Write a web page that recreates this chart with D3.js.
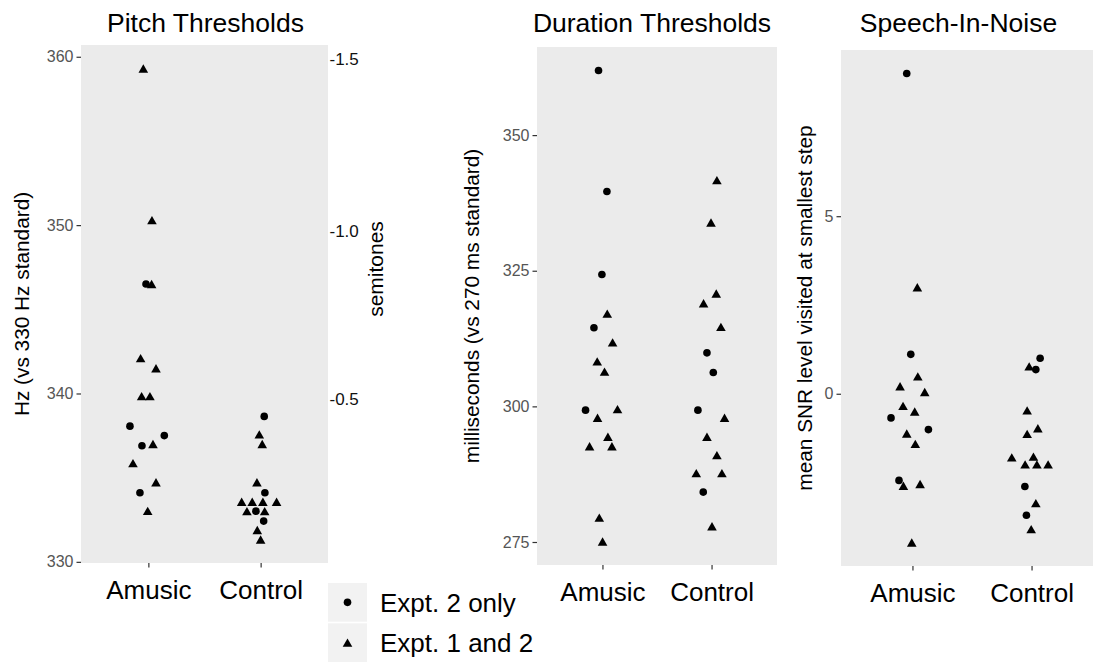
<!DOCTYPE html>
<html>
<head>
<meta charset="utf-8">
<script src="https://cdn.jsdelivr.net/npm/d3@7"></script>
<style>
  html, body { margin: 0; padding: 0; background: #fff; }
  svg { display: block; font-family: "Liberation Sans", Arial, Helvetica, sans-serif; }
</style>
</head>
<body>
<svg id="chart" width="1093" height="662"></svg>
<script>
// ---------- DATA ----------
const groups = ["Amusic", "Control"];
const legendLabels = ["Expt. 2 only", "Expt. 1 and 2"]; // code 0 = circle, 1 = triangle

const pitchTicks = [330, 340, 350, 360];
const semitoneTicks = [-1.5, -1.0, -0.5];
const durationTicks = [275, 300, 325, 350];
const sinTicks = [0, 5];

// Pitch thresholds (Hz)
const pitchAmusic = [359.3, 350.3, 346.5, 346.5, 342.1, 341.5, 339.84, 339.84, 338.06, 337.5, 336.9, 337.0, 335.86, 334.73, 334.1, 333.03];
const pitchAmusicExpt = [1, 1, 0, 1, 1, 1, 1, 1, 0, 0, 0, 1, 1, 1, 0, 1];
const pitchAmusicJitter = [-0.045, 0.032, -0.021, 0.029, -0.069, 0.068, -0.060, 0.014, -0.164, 0.142, -0.057, 0.041, -0.137, 0.068, -0.075, -0.006];

const pitchControl = [338.64, 337.57, 337.0, 334.73, 334.1, 333.57, 333.57, 333.57, 333.57, 333.01, 333.01, 333.01, 332.42, 331.89, 331.33];
const pitchControlExpt = [0, 1, 1, 1, 0, 1, 1, 1, 1, 1, 0, 1, 0, 1, 1];
const pitchControlJitter = [0.032, -0.012, 0.014, -0.033, 0.038, -0.169, -0.075, 0.020, 0.142, -0.122, -0.042, 0.036, 0.027, -0.030, 0.0];

// Duration thresholds (ms)
const durAmusic = [361.9, 339.6, 324.3, 317.1, 314.5, 311.8, 308.3, 306.4, 299.3, 299.5, 297.9, 294.4, 292.65, 292.65, 279.5, 275.1];
const durAmusicExpt = [0, 0, 0, 1, 0, 1, 1, 1, 0, 1, 1, 1, 1, 1, 1, 1];
const durAmusicJitter = [-0.036, 0.041, -0.005, 0.044, -0.078, 0.093, -0.048, 0.019, -0.155, 0.138, -0.045, 0.050, -0.118, 0.087, -0.029, 0.001];

const durControl = [341.7, 333.9, 320.8, 319.0, 314.65, 309.86, 306.24, 299.3, 297.9, 294.4, 291.0, 287.7, 287.7, 284.2, 277.9];
const durControlExpt = [1, 1, 1, 1, 1, 0, 0, 0, 1, 1, 1, 1, 1, 0, 1];
const durControlJitter = [0.049, -0.005, 0.043, -0.073, 0.086, -0.042, 0.016, -0.125, 0.119, -0.042, 0.049, -0.140, 0.095, -0.076, 0.004];

// Speech-in-noise (mean SNR)
const sinAmusic = [9.02, 3.0, 1.11, 0.49, 0.21, 0.05, -0.34, -0.50, -0.68, -1.01, -1.12, -1.41, -2.44, -2.59, -2.54, -4.19];
const sinAmusicExpt = [0, 1, 0, 1, 1, 1, 1, 1, 0, 0, 1, 1, 0, 1, 1, 1];
const sinAmusicJitter = [-0.048, 0.041, -0.014, 0.045, -0.104, 0.103, -0.079, 0.019, -0.180, 0.134, -0.048, 0.024, -0.113, -0.076, 0.064, -0.006];

const sinControl = [1.00, 0.77, 0.68, -0.47, -0.97, -1.13, -1.79, -1.77, -1.99, -1.99, -1.99, -2.61, -3.08, -3.42, -3.81];
const sinControlExpt = [0, 1, 0, 1, 1, 1, 1, 1, 1, 1, 1, 0, 1, 0, 1];
const sinControlJitter = [0.072, -0.020, 0.036, -0.037, 0.053, -0.037, -0.166, 0.016, -0.054, 0.045, 0.139, -0.056, 0.036, -0.043, -0.003];

// ---------- DRAW ----------
const svg = d3.select("#chart");
const FONT = '"Liberation Sans", Arial, Helvetica, sans-serif';

function rows(vals, expt, jit, gi) {
  return vals.map((v, i) => ({ v, e: expt[i], j: jit[i], g: gi }));
}

const triPath = (w) => {
  const h = w * 0.87;
  return `M0,${-h / 2}L${w / 2},${h / 2}L${-w / 2},${h / 2}Z`;
};

function panel(cfg) {
  const { x0, x1, y0, y1, data, ticks, title, titleX, yTitle, yTitleX } = cfg;
  const vals = data.map(d => d.v);
  const mn = d3.min(vals), mx = d3.max(vals), r = mx - mn;
  const y = d3.scaleLinear().domain([mn - 0.05 * r, mx + 0.05 * r]).range([y1, y0]);
  const x = d3.scaleLinear().domain([0.4, 2.6]).range([x0, x1]);

  const g = svg.append("g");
  g.append("rect").attr("x", x0).attr("y", y0).attr("width", x1 - x0).attr("height", y1 - y0).attr("fill", "#ebebeb");

  // left axis
  const ya = g.append("g").attr("transform", `translate(${x0},0)`)
    .call(d3.axisLeft(y).tickValues(ticks).tickSizeInner(4.5).tickSizeOuter(0).tickPadding(3));
  ya.select(".domain").remove();
  ya.selectAll("line").attr("stroke", "#333").attr("stroke-width", 1.2);
  ya.selectAll("text").attr("fill", "#555").attr("font-size", 16).attr("font-family", FONT);

  // bottom axis
  const xa = g.append("g").attr("transform", `translate(0,${y1})`)
    .call(d3.axisBottom(x).tickValues([1, 2]).tickFormat(i => groups[i - 1]).tickSizeInner(4.5).tickSizeOuter(0).tickPadding(7));
  xa.select(".domain").remove();
  xa.selectAll("line").attr("stroke", "#333").attr("stroke-width", 1.2);
  xa.selectAll("text").attr("fill", "#000").attr("font-size", 26).attr("font-family", FONT).attr("dy", "0.95em");

  // points
  const pts = g.append("g");
  pts.selectAll("circle").data(data.filter(d => d.e === 0)).join("circle")
    .attr("cx", d => x(d.g + 1 + d.j)).attr("cy", d => y(d.v)).attr("r", 3.8).attr("fill", "#000");
  pts.selectAll("path").data(data.filter(d => d.e === 1)).join("path")
    .attr("d", triPath(9.6))
    .attr("transform", d => `translate(${x(d.g + 1 + d.j)},${y(d.v)})`).attr("fill", "#000");

  // title
  svg.append("text").attr("x", titleX).attr("y", 31.5).attr("text-anchor", "middle")
    .attr("font-size", 26.5).attr("font-family", FONT).attr("fill", "#000").text(title);
  // y title
  svg.append("text").attr("transform", `translate(${yTitleX},${(y0 + y1) / 2}) rotate(-90)`)
    .attr("text-anchor", "middle").attr("font-size", 20.8).attr("font-family", FONT).attr("fill", "#000").text(yTitle);

  return { x, y, g };
}

// Panel 1: Pitch
const p1 = panel({
  x0: 81, x1: 328, y0: 45, y1: 563,
  data: rows(pitchAmusic, pitchAmusicExpt, pitchAmusicJitter, 0).concat(rows(pitchControl, pitchControlExpt, pitchControlJitter, 1)),
  ticks: pitchTicks, title: "Pitch Thresholds", titleX: 205.5,
  yTitle: "Hz (vs 330 Hz standard)", yTitleX: 28.5
});
// secondary semitone axis
const semi = svg.append("g").attr("transform", "translate(328,0)")
  .call(d3.axisRight(p1.y).tickValues(semitoneTicks.map(s => 330 * Math.pow(2, -s / 12)))
    .tickFormat((d, i) => d3.format(".1f")(semitoneTicks[i]).replace("−", "-"))
    .tickSizeInner(0).tickSizeOuter(0).tickPadding(1.5));
semi.select(".domain").remove();
semi.selectAll("text").attr("fill", "#111").attr("font-size", 17).attr("font-family", FONT);
svg.append("text").attr("transform", "translate(383,269) rotate(-90)")
  .attr("text-anchor", "middle").attr("font-size", 21).attr("font-family", FONT).attr("fill", "#000").text("semitones");

// Panel 2: Duration
panel({
  x0: 537, x1: 777, y0: 47, y1: 565,
  data: rows(durAmusic, durAmusicExpt, durAmusicJitter, 0).concat(rows(durControl, durControlExpt, durControlJitter, 1)),
  ticks: durationTicks, title: "Duration Thresholds", titleX: 652,
  yTitle: "milliseconds (vs 270 ms standard)", yTitleX: 478.5
});

// Panel 3: Speech-In-Noise
panel({
  x0: 841, x1: 1103, y0: 50, y1: 566,
  data: rows(sinAmusic, sinAmusicExpt, sinAmusicJitter, 0).concat(rows(sinControl, sinControlExpt, sinControlJitter, 1)),
  ticks: sinTicks, title: "Speech-In-Noise", titleX: 958.5,
  yTitle: "mean SNR level visited at smallest step", yTitleX: 812
});

// Legend
const lg = svg.append("g");
const keyY = d3.scaleBand().domain(legendLabels).range([583, 662]).paddingInner(0.04);
legendLabels.forEach((lab, i) => {
  const yy = keyY(lab), hh = keyY.bandwidth();
  lg.append("rect").attr("x", 328).attr("y", yy).attr("width", 39).attr("height", hh).attr("fill", "#f2f2f2");
  if (i === 0) {
    lg.append("circle").attr("cx", 347.5).attr("cy", yy + hh / 2).attr("r", 3.8).attr("fill", "#000");
  } else {
    lg.append("path").attr("d", triPath(9.6)).attr("transform", `translate(347.5,${yy + hh / 2})`).attr("fill", "#000");
  }
  lg.append("text").attr("x", 380).attr("y", yy + hh / 2).attr("dy", "0.36em")
    .attr("font-size", 26).attr("font-family", FONT).attr("fill", "#000").text(lab);
});
</script>
</body>
</html>
